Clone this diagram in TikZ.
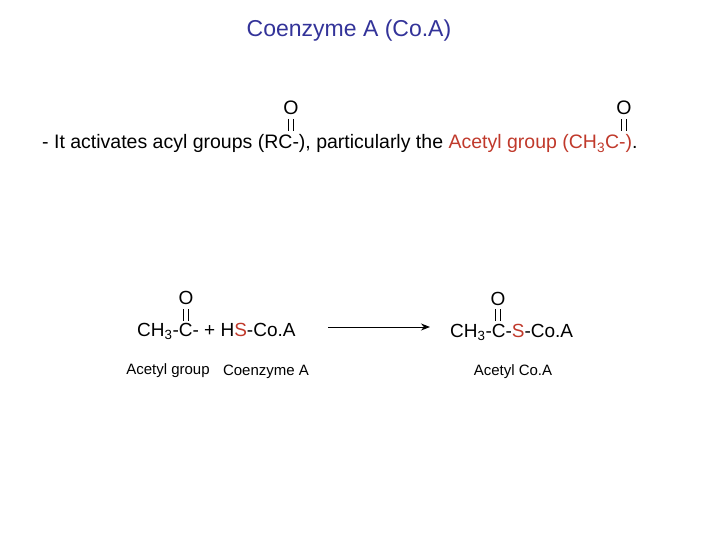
\documentclass[tikz,border=0pt]{standalone}
\usepackage{fontspec}
\setmainfont{Liberation Sans}
\usetikzlibrary{arrows.meta}
\definecolor{ttl}{HTML}{333399}
\definecolor{rd}{HTML}{C0392B}
\begin{document}
\begin{tikzpicture}[x=1pt,y=-1pt,
  txt/.style={font=\fontsize{19.5}{22}\selectfont,inner sep=0pt},
  eq/.style={font=\fontsize{19}{22}\selectfont,inner sep=0pt},
  sm/.style={font=\fontsize{15}{17}\selectfont,inner sep=0pt},
  dbl/.style={line width=1pt}]
\useasboundingbox (0,0) rectangle (720,540);
\node[font=\fontsize{23}{26}\selectfont,text=ttl,inner sep=0pt] (title) at (349,31) {Coenzyme A (Co.A)};
\node[txt,anchor=base west] (s) at (42,149) {- It activates acyl groups (RC-), particularly the \textcolor{rd}{Acetyl group (CH\textsubscript{3}C-)}.};
\node[txt] (o1) at (291,108) {O};
\node[txt] (o2) at (624,108) {O};
\foreach \x in {291,624}{\draw[dbl] (\x-2.5,119)--(\x-2.5,131); \draw[dbl] (\x+2.5,119)--(\x+2.5,131);}
\node[eq,anchor=base west] (l) at (137,336) {CH\textsubscript{3}-C- + H\textcolor{rd}{S}-Co.A};
\node[eq] (o3) at (186,298) {O};
\node[eq,anchor=base west] (r) at (450,337) {CH\textsubscript{3}-C-\textcolor{rd}{S}-Co.A};
\node[eq] (o4) at (498,299) {O};
\foreach \x in {186,498}{\draw[dbl] (\x-2.5,309)--(\x-2.5,321); \draw[dbl] (\x+2.5,309)--(\x+2.5,321);}
\coordinate (a1) at (328,327); \coordinate (a2) at (430,327);
\draw[-{Stealth[length=9pt,width=7pt]},line width=1pt] (a1)--(a2);
\node[sm] (n1) at (168,371) {Acetyl group};
\node[sm] (n2) at (266,372) {Coenzyme A};
\node[sm] (n3) at (513,372) {Acetyl Co.A};
\end{tikzpicture}
\end{document}
